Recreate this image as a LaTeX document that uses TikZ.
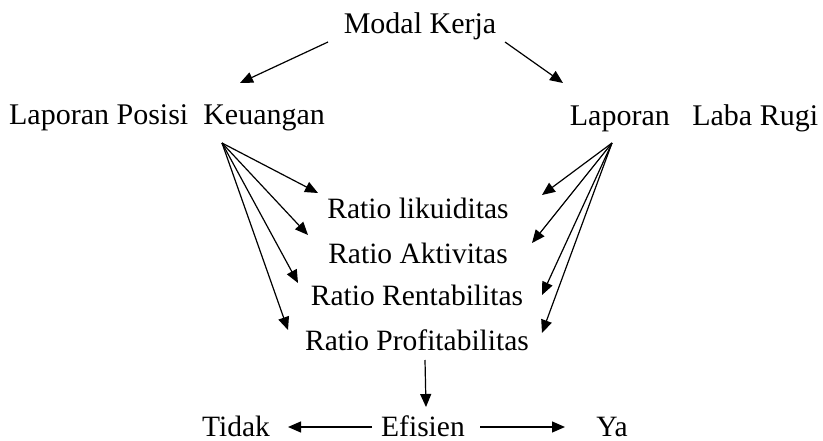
\documentclass[tikz,border=0pt]{standalone}
\usepackage{fontspec}
\setmainfont{Liberation Serif}
\usetikzlibrary{arrows.meta}
\begin{document}
\begin{tikzpicture}[x=1pt,y=-1pt,
  lbl/.style={inner sep=0pt,font=\fontsize{30}{32}\selectfont},
  rat/.style={inner sep=0pt,font=\fontsize{29.5}{32}\selectfont},
  bot/.style={inner sep=0pt,anchor=base,text depth=0pt,font=\fontsize{29.5}{32}\selectfont},
  arr/.style={line width=1.2pt,-{Triangle[length=13pt,width=11pt]}}]
\useasboundingbox (0,0) rectangle (823,441);
\node[lbl] (mk) at (420,26) {Modal Kerja};
\node[lbl] (lpk) at (167,118) {Laporan Posisi\ \ Keuangan};
\node[lbl] (llr) at (694,118) {Laporan\ \ \ Laba Rugi};
\node[rat] (r1) at (418,208) {Ratio likuiditas};
\node[rat] (r2) at (418,253) {Ratio Aktivitas};
\node[rat] (r3) at (417,295) {Ratio Rentabilitas};
\node[rat] (r4) at (417,340) {Ratio Profitabilitas};
\node[bot] (ef) at (423,436) {Efisien};
\node[bot] (td) at (236,436) {Tidak};
\node[bot] (ya) at (612,436) {Ya};
% connector end points
\coordinate (mkl) at (328,42);
\coordinate (mkr) at (505,42);
\coordinate (lpkt) at (240,83);
\coordinate (llrt) at (563,83);
\coordinate (lf) at (222,143);
\coordinate (rf) at (612,143);
\coordinate (l1) at (318,193);
\coordinate (l2) at (308,235);
\coordinate (l3) at (298,283);
\coordinate (l4) at (288,330);
\coordinate (q1) at (542,195);
\coordinate (q2) at (532,243);
\coordinate (q3) at (542,295);
\coordinate (q4) at (542,333);
\coordinate (dn) at (425,360);
\coordinate (dnt) at (426,407);
\coordinate (el) at (372,427);
\coordinate (elt) at (288,427);
\coordinate (er) at (480,427);
\coordinate (ert) at (565,427);
\draw[arr] (mkl) -- (lpkt);
\draw[arr] (mkr) -- (llrt);
\foreach \t in {l1,l2,l3,l4} \draw[arr] (lf) -- (\t);
\foreach \t in {q1,q2,q3,q4} \draw[arr] (rf) -- (\t);
\draw[arr] (dn) -- (dnt);
\draw[arr] (el) -- (elt);
\draw[arr] (er) -- (ert);
\end{tikzpicture}
\end{document}
